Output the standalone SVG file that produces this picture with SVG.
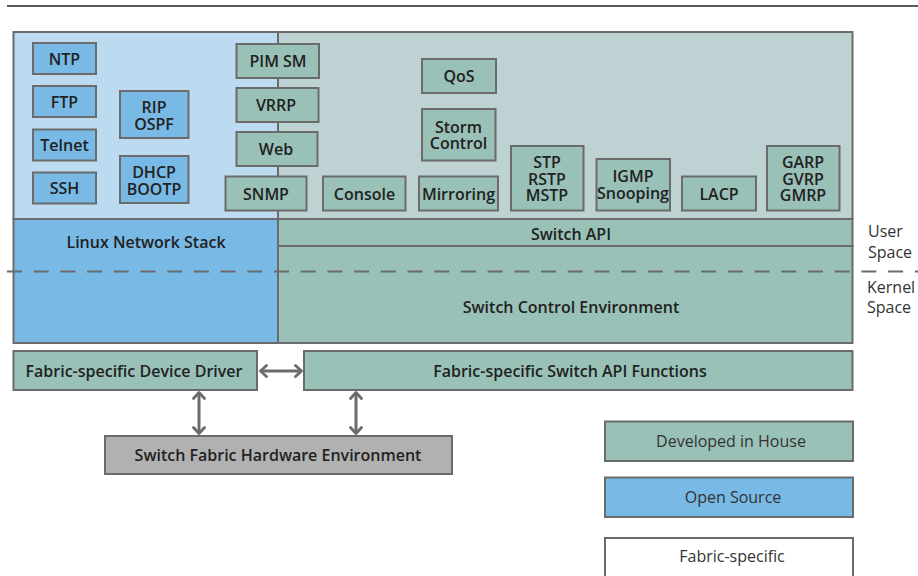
<svg xmlns="http://www.w3.org/2000/svg" width="918" height="576" viewBox="0 0 918 576">
<style>
.b{stroke:#6b6b6b;stroke-width:2}
.os{fill:#78b9e5}
.dh{fill:#99c1b7}
.hw{fill:#b1b1b1}
.wh{fill:#ffffff}
.t{font-family:"Open Sans","Noto Sans",sans-serif;font-weight:600;font-size:16px;fill:#222;text-anchor:middle;dominant-baseline:central}
.r{font-family:"Open Sans","Noto Sans",sans-serif;font-weight:400;font-size:16px;fill:#333;text-anchor:middle;dominant-baseline:central}
.s{font-family:"Open Sans","Noto Sans",sans-serif;font-weight:400;font-size:16px;fill:#333;dominant-baseline:central}
.c{fill:none;stroke:#6b6b6b;stroke-width:3}
</style>
<defs>
<marker id="ah" viewBox="-9 -7 11 14" refX="0" refY="0" markerWidth="11" markerHeight="14" markerUnits="userSpaceOnUse" orient="auto-start-reverse">
<path d="M-6,-5.5 L0,0 L-6,5.5" fill="none" stroke="#6b6b6b" stroke-width="2.8" stroke-linecap="round" stroke-linejoin="round"/>
</marker>
</defs>
<rect width="918" height="576" fill="#ffffff"/>
<line x1="7" y1="6" x2="918" y2="6" stroke="#222" stroke-width="1.5"/>

<g id="user-space-open">
<rect x="13.5" y="32" width="264.5" height="187" fill="#bcdaf0" class="b"/>
</g>
<g id="user-space-inhouse">
<rect x="278" y="32" width="574.5" height="187" fill="#bed2d4" class="b"/>
</g>

<g id="ntp"><rect x="33" y="43" width="63" height="31" class="b os"/><text class="t" x="64.5" y="58.5">NTP</text></g>
<g id="ftp"><rect x="33" y="86" width="63" height="31" class="b os"/><text class="t" x="64.5" y="101.5">FTP</text></g>
<g id="telnet"><rect x="33" y="129.5" width="63" height="31" class="b os"/><text class="t" x="64.5" y="145">Telnet</text></g>
<g id="ssh"><rect x="33" y="172.5" width="63" height="31" class="b os"/><text class="t" x="64.5" y="188">SSH</text></g>
<g id="rip-ospf"><rect x="120" y="91" width="68.5" height="47" class="b os"/><text class="t" x="154" y="106.5">RIP<tspan x="154" dy="17.5">OSPF</tspan></text></g>
<g id="dhcp-bootp"><rect x="120" y="156" width="68.5" height="47" class="b os"/><text class="t" x="154" y="171.5">DHCP<tspan x="154" dy="17.5">BOOTP</tspan></text></g>

<g id="pim-sm"><rect x="236.5" y="44" width="82.5" height="34" class="b dh"/><text class="t" x="278" y="61">PIM SM</text></g>
<g id="vrrp"><rect x="236.5" y="88" width="82" height="34" class="b dh"/><text class="t" x="276" y="105">VRRP</text></g>
<g id="web"><rect x="236.5" y="132" width="81" height="34" class="b dh"/><text class="t" x="276" y="149">Web</text></g>
<g id="snmp"><rect x="225.5" y="176.5" width="81" height="34" class="b dh"/><text class="t" x="266" y="193.5">SNMP</text></g>
<g id="console"><rect x="323" y="176.5" width="82.5" height="34" class="b dh"/><text class="t" x="364.5" y="193.5">Console</text></g>
<g id="mirroring"><rect x="419" y="176.5" width="79" height="34" class="b dh"/><text class="t" x="458.5" y="193.5">Mirroring</text></g>
<g id="qos"><rect x="422" y="59" width="74" height="34" class="b dh"/><text class="t" x="459" y="76">QoS</text></g>
<g id="storm-control"><rect x="422" y="109" width="73.5" height="51.5" class="b dh"/><text class="t" x="458.5" y="126.5">Storm<tspan x="458.5" dy="16.5">Control</tspan></text></g>
<g id="stp"><rect x="511" y="146" width="72.5" height="64.5" class="b dh"/><text class="t" x="547" y="162">STP<tspan x="547" dy="16.5">RSTP</tspan><tspan x="547" dy="16.5">MSTP</tspan></text></g>
<g id="igmp"><rect x="596.5" y="159" width="73.5" height="51.5" class="b dh"/><text class="t" x="633" y="176">IGMP<tspan x="633" dy="17">Snooping</tspan></text></g>
<g id="lacp"><rect x="682" y="176.5" width="74" height="34" class="b dh"/><text class="t" x="719" y="193.5">LACP</text></g>
<g id="garp"><rect x="767" y="146" width="72.5" height="64.5" class="b dh"/><text class="t" x="803" y="162">GARP<tspan x="803" dy="16.5">GVRP</tspan><tspan x="803" dy="16.5">GMRP</tspan></text></g>

<g id="linux-network-stack"><rect x="13.5" y="219" width="264.5" height="124" class="b os"/><text class="t" x="146" y="242">Linux Network Stack</text></g>
<g id="switch-api"><rect x="278" y="219" width="574.5" height="27" class="b dh"/><text class="t" x="571" y="234">Switch API</text></g>
<g id="switch-control-environment"><rect x="278" y="246" width="574.5" height="97" class="b dh"/><text class="t" x="571" y="307">Switch Control Environment</text></g>

<line x1="7" y1="271.5" x2="918" y2="271.5" stroke="#6b6b6b" stroke-width="2" stroke-dasharray="15 11.7"/>
<g id="space-labels">
<text class="s" x="868" y="231">User</text>
<text class="s" x="868" y="251.5">Space</text>
<text class="s" x="867" y="287">Kernel</text>
<text class="s" x="867" y="307">Space</text>
</g>

<g id="device-driver"><rect x="13.5" y="351" width="243.5" height="39" class="b dh"/><text class="t" x="134" y="370.5">Fabric-specific Device Driver</text></g>
<g id="switch-api-functions"><rect x="304" y="351" width="548.5" height="39" class="b dh"/><text class="t" x="570" y="370.5">Fabric-specific Switch API Functions</text></g>
<g id="hardware"><rect x="105" y="436" width="347" height="38" class="b hw"/><text class="t" x="278" y="455">Switch Fabric Hardware Environment</text></g>

<g id="connectors">
<line class="c" x1="260.5" y1="371" x2="301.5" y2="371" marker-start="url(#ah)" marker-end="url(#ah)"/>
<line class="c" x1="199" y1="392.5" x2="199" y2="433.5" marker-start="url(#ah)" marker-end="url(#ah)"/>
<line class="c" x1="356" y1="392.5" x2="356" y2="433.5" marker-start="url(#ah)" marker-end="url(#ah)"/>
</g>

<g id="legend-developed"><rect x="605" y="421.5" width="248" height="39.5" class="b dh"/><text class="r" x="731" y="441">Developed in House</text></g>
<g id="legend-open"><rect x="605" y="477.5" width="248" height="39.5" class="b os"/><text class="r" x="733" y="497">Open Source</text></g>
<g id="legend-fabric"><rect x="605" y="538" width="248" height="45" class="b wh"/><text class="r" x="732" y="556">Fabric-specific</text></g>
</svg>
